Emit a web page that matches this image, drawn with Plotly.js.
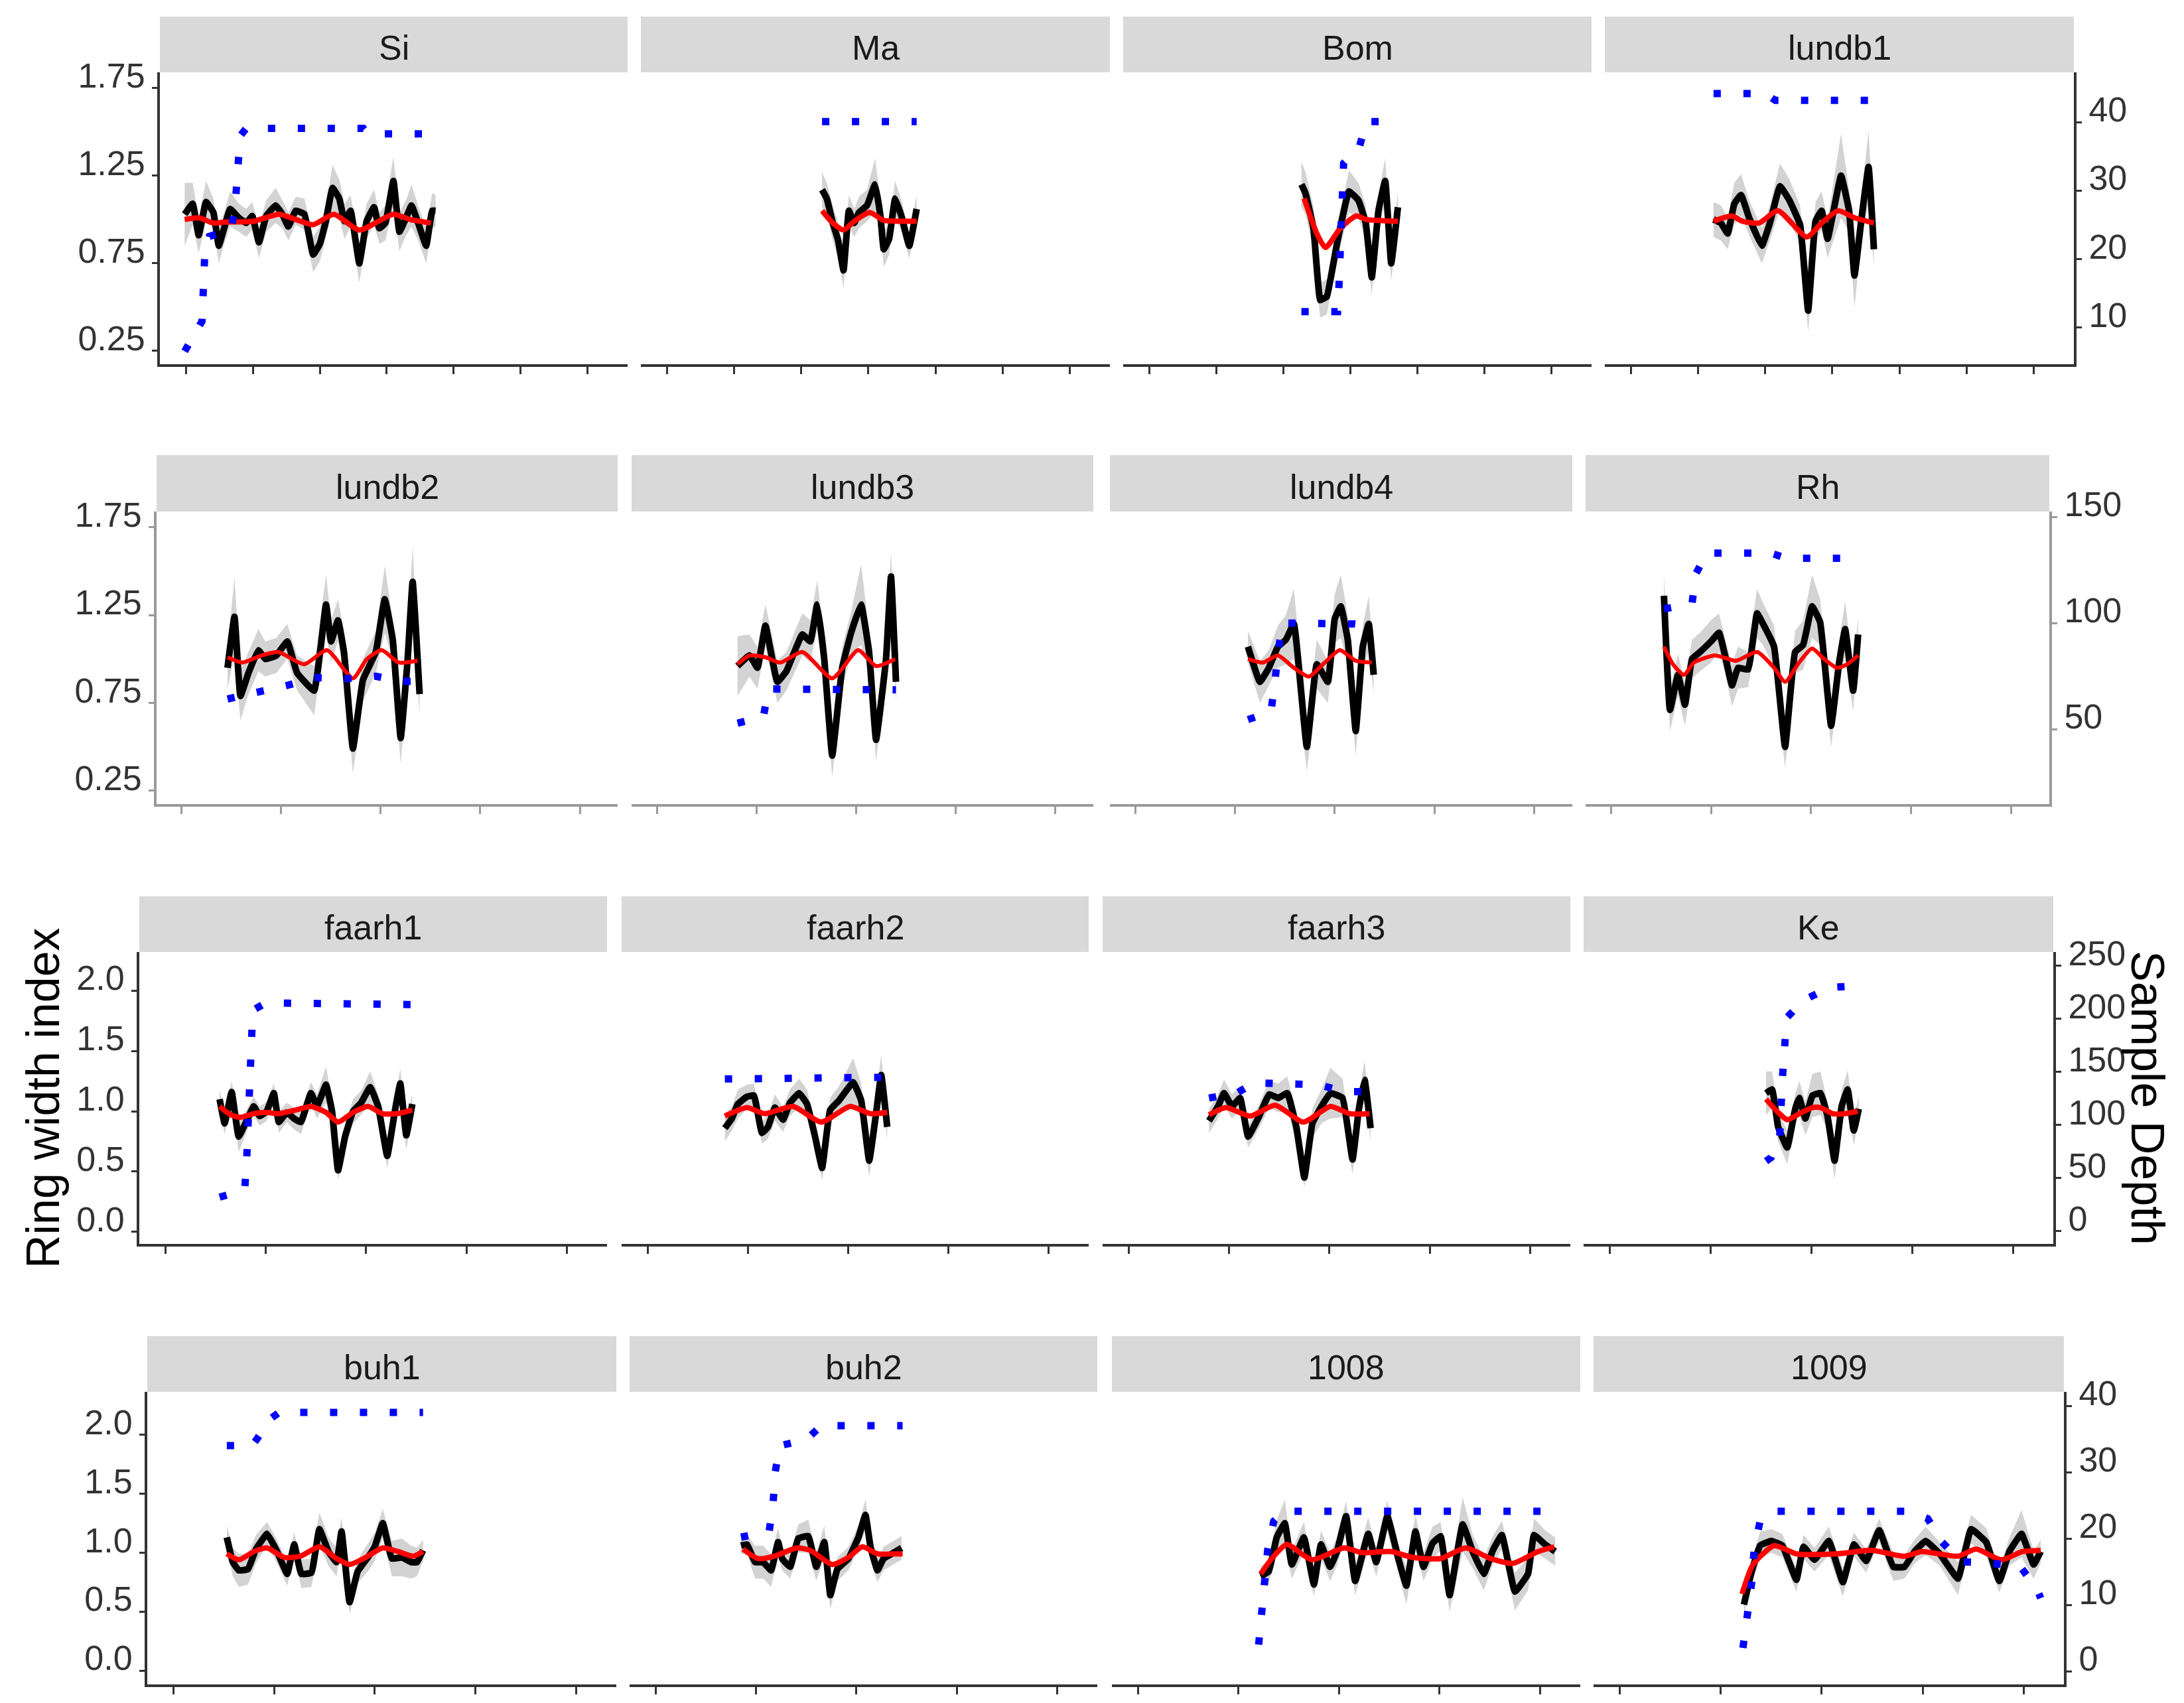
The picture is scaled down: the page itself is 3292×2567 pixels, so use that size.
<!DOCTYPE html>
<html><head><meta charset="utf-8">
<script src="https://cdn.plot.ly/plotly-3.0.1.min.js"></script>
<style>html,body{margin:0;padding:0;background:#fff}</style>
</head><body><div id="chart" style="width:3292px;height:2567px"></div>
<script>
// ---------------- DATA ----------------
const panelNames = ['Si','Ma','Bom','lundb1','lundb2','lundb3','lundb4','Rh','faarh1','faarh2','faarh3','Ke','buh1','buh2','1008','1009'];

// Si
const siYears = [1298,1310,1319,1330,1341,1349,1357,1366,1379,1390,1399,1409,1420,1434,1444,1453,1464,1477,1490,1500,1509,1519,1529,1537,1546,1559,1570,1581,1589,1598,1610,1619,1629,1637,1647,1659,1668,1673];
const siRwi = [1.03,1.09,0.91,1.10,1.04,0.85,0.95,1.06,1.01,0.98,1.02,0.87,1.02,1.08,1.03,0.96,1.05,1.03,0.80,0.86,0.99,1.18,1.12,0.99,1.05,0.75,0.99,1.07,0.95,0.98,1.22,0.93,1.01,1.08,0.98,0.85,1.05,1.05];
const siSe = [0.18,0.12,0.10,0.12,0.08,0.10,0.09,0.10,0.08,0.08,0.08,0.09,0.09,0.10,0.08,0.08,0.08,0.09,0.10,0.10,0.09,0.13,0.11,0.10,0.09,0.11,0.10,0.10,0.09,0.10,0.14,0.11,0.10,0.12,0.10,0.10,0.10,0.09];
const siSmoothYears = [1298,1319,1341,1357,1401,1439,1464,1490,1521,1559,1610,1635,1666];
const siSmooth = [1.00,1.01,0.98,0.985,0.99,1.03,1.00,0.97,1.03,0.94,1.03,1.00,0.98];
const siDepthYears = [1298,1324,1328,1335,1368,1374,1381,1390,1565,1572,1673];
const siDepth = [6.5,10.9,20.5,23.3,24.3,28.5,38,39.1,39.1,38.3,38.3];

// Ma
const maYears = [1531,1538,1547,1555,1563,1571,1579,1586,1598,1610,1618,1623,1631,1640,1650,1661,1672];
const maRwi = [1.17,1.12,0.98,0.88,0.71,1.05,0.98,1.04,1.08,1.20,1.02,0.83,0.89,1.12,1.01,0.85,1.06];
const maSe = [0.10,0.09,0.10,0.10,0.10,0.09,0.08,0.09,0.09,0.15,0.10,0.10,0.09,0.10,0.09,0.07,0.08];
const maSmoothYears = [1531,1547,1563,1579,1602,1623,1648,1672];
const maSmooth = [1.05,0.98,0.94,0.99,1.04,0.995,0.99,0.99];
const maDepthYears = [1531,1672];
const maDepth = [40.1,40.1];

// Bom
const bomYears = [1527,1533,1545,1555,1561,1565,1581,1598,1612,1623,1632,1642,1652,1661,1671];
const bomRwi = [1.20,1.15,0.95,0.54,0.55,0.56,0.88,1.16,1.11,0.98,0.67,1.05,1.22,0.75,1.07];
const bomSe = [0.13,0.12,0.12,0.10,0.10,0.10,0.10,0.12,0.10,0.10,0.10,0.09,0.13,0.10,0.09];
const bomSmoothYears = [1531,1550,1563,1585,1609,1624,1671];
const bomSmooth = [1.12,0.92,0.84,0.95,1.02,1.00,0.99];
const bomDepthYears = [1527,1581,1583,1590,1613,1624,1655,1664,1671];
const bomDepth = [12.3,12.3,16,34,36.2,40.1,40.1,39.1,39.1];

// lundb1
const lundb1Years = [1423,1434,1444,1454,1464,1476,1495,1507,1522,1536,1552,1564,1575,1584,1593,1613,1625,1633,1644,1654,1662];
const lundb1Rwi = [1.00,0.98,0.92,1.09,1.14,1.01,0.85,0.98,1.19,1.11,0.97,0.48,0.99,1.05,0.89,1.25,1.05,0.68,1.02,1.30,0.83];
const lundb1Se = [0.10,0.10,0.09,0.12,0.12,0.10,0.10,0.10,0.13,0.12,0.11,0.12,0.11,0.11,0.11,0.24,0.12,0.18,0.12,0.21,0.10];
const lundb1SmoothYears = [1423,1450,1466,1491,1519,1562,1584,1609,1633,1662];
const lundb1Smooth = [0.99,1.02,0.99,0.98,1.05,0.90,0.98,1.05,1.01,0.98];
const lundb1DepthYears = [1423,1500,1515,1662];
const lundb1Depth = [44.2,44.2,43.2,43.2];

// lundb2
const lundb2Years = [1646,1653,1659,1667,1677,1684,1695,1706,1716,1733,1745,1750,1757,1763,1772,1782,1795,1804,1812,1820,1827,1832,1839];
const lundb2Rwi = [0.95,1.24,0.79,0.92,1.05,1.00,1.02,1.10,0.92,0.82,1.31,1.10,1.22,1.04,0.49,0.88,1.04,1.34,1.11,0.55,1.00,1.44,0.80];
const lundb2Se = [0.12,0.22,0.14,0.12,0.12,0.10,0.10,0.10,0.10,0.14,0.17,0.12,0.12,0.12,0.14,0.12,0.12,0.19,0.12,0.15,0.12,0.20,0.12];
const lundb2SmoothYears = [1646,1661,1680,1697,1723,1746,1772,1786,1801,1818,1837];
const lundb2Smooth = [1.01,0.98,1.02,1.04,0.97,1.05,0.89,1.00,1.05,0.98,0.99];
const lundb2DepthYears = [1646,1676,1707,1733,1764,1795,1820,1839];
const lundb2Depth = [64.2,67.1,70.7,74.3,73.7,74.9,72.5,72.5];

// lundb3
const lundb3Years = [1681,1693,1701,1709,1721,1730,1746,1754,1761,1768,1776,1786,1795,1805,1813,1820,1830,1835,1840];
const lundb3Rwi = [0.96,1.02,0.95,1.19,0.87,0.93,1.14,1.10,1.31,1.00,0.45,0.95,1.15,1.31,1.04,0.54,1.00,1.47,0.87];
const lundb3Se = [0.17,0.12,0.12,0.12,0.12,0.11,0.12,0.12,0.14,0.12,0.12,0.12,0.12,0.23,0.12,0.12,0.12,0.14,0.12];
const lundb3SmoothYears = [1681,1693,1709,1724,1746,1776,1802,1820,1839];
const lundb3Smooth = [0.97,1.02,1.01,0.98,1.04,0.89,1.05,0.96,1.00];
const lundb3DepthYears = [1681,1707,1712,1840];
const lundb3Depth = [52.8,55.8,68.9,68.5];

// lundb4
const lundb4Years = [1713,1725,1734,1743,1751,1759,1772,1782,1793,1800,1806,1813,1821,1828,1834,1839];
const lundb4Rwi = [1.07,0.87,0.95,1.07,1.11,1.20,0.50,0.97,0.87,1.23,1.30,1.11,0.59,1.07,1.20,0.91];
const lundb4Se = [0.09,0.12,0.10,0.12,0.14,0.20,0.14,0.14,0.12,0.14,0.18,0.14,0.14,0.12,0.16,0.10];
const lundb4SmoothYears = [1713,1728,1743,1759,1774,1790,1805,1821,1837];
const lundb4Smooth = [1.00,0.98,1.02,0.95,0.90,0.98,1.05,0.99,0.98];
const lundb4DepthYears = [1713,1736,1740,1743,1748,1820,1839];
const lundb4Depth = [54.5,58.1,71.9,86.2,100,99.5,98.5];

// Rh
const rhYears = [1653,1659,1667,1674,1681,1689,1700,1708,1714,1721,1727,1737,1746,1752,1763,1774,1784,1792,1801,1809,1820,1828,1834,1842,1847];
const rhRwi = [1.36,0.71,0.91,0.74,1.00,1.04,1.10,1.15,1.02,0.85,0.95,0.94,1.26,1.20,1.07,0.50,1.04,1.08,1.30,1.21,0.62,0.98,1.17,0.82,1.14];
const rhSe = [0.12,0.12,0.12,0.12,0.11,0.11,0.12,0.11,0.10,0.12,0.12,0.10,0.14,0.12,0.12,0.12,0.12,0.14,0.18,0.13,0.12,0.12,0.16,0.12,0.10];
const rhSmoothYears = [1653,1662,1673,1683,1704,1725,1746,1763,1774,1788,1801,1813,1826,1836,1847];
const rhSmooth = [1.07,0.97,0.91,0.98,1.02,0.99,1.04,0.95,0.87,0.98,1.06,1.00,0.95,0.97,1.02];
const rhDepthYears = [1653,1681,1685,1696,1760,1775,1847];
const rhDepth = [106.6,109,123.3,132.9,132.9,130.5,130.5];

// faarh1
const faarh1Years = [1654,1659,1666,1673,1682,1688,1694,1701,1708,1713,1721,1728,1735,1745,1751,1760,1766,1772,1779,1787,1795,1804,1812,1821,1829,1834,1840,1846];
const faarh1Rwi = [1.10,0.90,1.16,0.79,0.94,1.04,0.96,1.00,1.15,0.91,0.99,0.94,0.91,1.15,1.04,1.22,1.00,0.51,0.79,1.00,1.07,1.20,1.04,0.63,1.02,1.23,0.80,1.06];
const faarh1Se = [0.08,0.09,0.09,0.13,0.09,0.08,0.08,0.08,0.08,0.09,0.08,0.09,0.10,0.09,0.10,0.15,0.10,0.08,0.10,0.10,0.10,0.13,0.10,0.10,0.10,0.12,0.12,0.08];
const faarh1SmoothYears = [1654,1665,1675,1688,1701,1713,1730,1745,1760,1772,1787,1802,1816,1831,1846];
const faarh1Smooth = [1.04,0.97,0.95,0.98,0.99,0.98,1.01,1.04,0.99,0.91,0.99,1.04,0.98,0.98,1.01];
const faarh1DepthYears = [1654,1679,1681,1683,1685,1687,1700,1800,1820,1846];
const faarh1Depth = [32,39,68,124,180,208,215,215,213.5,213.5];

// faarh2
const faarh2Years = [1677,1684,1690,1699,1706,1714,1720,1727,1735,1742,1751,1759,1767,1774,1782,1791,1805,1813,1821,1828,1833,1839];
const faarh2Rwi = [0.86,0.94,1.06,1.12,1.13,0.82,0.87,1.03,0.93,1.07,1.15,1.06,0.79,0.53,1.01,1.09,1.24,1.09,0.59,0.99,1.30,0.87];
const faarh2Se = [0.11,0.10,0.12,0.10,0.10,0.09,0.10,0.11,0.10,0.11,0.12,0.12,0.10,0.10,0.10,0.12,0.20,0.14,0.13,0.12,0.17,0.10];
const faarh2SmoothYears = [1677,1699,1717,1745,1773,1802,1822,1839];
const faarh2Smooth = [0.96,1.03,0.98,1.04,0.91,1.04,0.98,0.99];
const faarh2DepthYears = [1677,1780,1795,1839];
const faarh2Depth = [143.4,143.4,145,145];

// faarh3
const faarh3Years = [1680,1689,1695,1703,1711,1719,1730,1740,1749,1758,1767,1775,1783,1792,1801,1813,1823,1829,1835,1841];
const faarh3Rwi = [0.92,1.04,1.15,1.04,1.11,0.79,0.96,1.14,1.11,1.15,0.87,0.45,0.90,1.04,1.15,1.11,0.60,1.00,1.26,0.86];
const faarh3Se = [0.10,0.10,0.11,0.10,0.10,0.09,0.10,0.11,0.12,0.14,0.13,0.08,0.12,0.14,0.21,0.16,0.12,0.12,0.16,0.10];
const faarh3SmoothYears = [1680,1697,1721,1746,1774,1801,1820,1840];
const faarh3Smooth = [0.97,1.03,0.96,1.05,0.91,1.04,0.98,0.98];
const faarh3DepthYears = [1680,1708,1725,1790,1815,1841];
const faarh3Depth = [125.4,130.2,139.8,137.9,131.4,131.4];

// Ke
const keYears = [1755,1761,1767,1776,1784,1788,1794,1801,1809,1816,1823,1830,1836,1842,1847];
const keRwi = [1.15,1.18,0.87,0.70,1.02,1.11,0.94,1.13,1.15,0.96,0.59,1.04,1.18,0.84,1.02];
const keSe = [0.18,0.15,0.12,0.14,0.12,0.14,0.14,0.18,0.18,0.12,0.15,0.14,0.16,0.12,0.10];
const keSmoothYears = [1755,1767,1776,1788,1801,1809,1821,1834,1846];
const keSmooth = [1.10,0.99,0.93,0.98,1.03,1.03,0.98,0.98,1.00];
const keDepthYears = [1755,1760,1768.5,1769.5,1771.3,1773.4,1775.5,1792,1818,1846];
const keDepth = [66,69.3,88,117,145,173,201,217.5,229.5,231.2];

// buh1
const buh1Years = [1653,1659,1665,1674,1682,1693,1703,1713,1720,1727,1737,1745,1754,1762,1767,1775,1783,1794,1800,1808,1817,1827,1836,1842,1848];
const buh1Rwi = [1.13,0.92,0.85,0.86,1.03,1.16,1.01,0.82,1.07,0.82,0.83,1.20,1.01,0.92,1.18,0.58,0.84,0.97,1.05,1.25,0.95,0.96,0.92,0.92,1.02];
const buh1Se = [0.10,0.12,0.14,0.13,0.12,0.10,0.10,0.10,0.10,0.12,0.12,0.14,0.12,0.12,0.12,0.10,0.10,0.12,0.12,0.12,0.15,0.16,0.14,0.12,0.09];
const buh1SmoothYears = [1653,1665,1680,1693,1710,1726,1745,1762,1775,1789,1808,1823,1838,1848];
const buh1Smooth = [0.99,0.94,1.01,1.04,0.96,0.97,1.05,0.95,0.90,0.95,1.04,1.01,0.97,1.01];
const buh1DepthYears = [1653,1678,1683,1696,1705,1848];
const buh1Depth = [34,34,35,38,39,39];

// buh2
const buh2Years = [1685,1691,1699,1707,1715,1722,1726,1734,1742,1752,1760,1768,1774,1781,1792,1802,1809,1814,1821,1827,1835,1845];
const buh2Rwi = [1.06,1.07,0.92,0.92,0.85,1.09,0.95,0.88,1.12,1.14,0.88,1.09,0.64,0.86,0.95,1.13,1.32,1.05,0.85,0.95,0.99,1.04];
const buh2Se = [0.07,0.08,0.14,0.14,0.14,0.12,0.10,0.10,0.12,0.14,0.12,0.14,0.12,0.10,0.10,0.10,0.13,0.12,0.10,0.10,0.10,0.10];
const buh2SmoothYears = [1687,1702,1718,1741,1754,1776,1792,1806,1821,1837,1846];
const buh2Smooth = [1.03,0.95,0.97,1.04,1.02,0.90,0.96,1.05,0.99,0.99,0.99];
const buh2DepthYears = [1685,1713,1717,1719,1724,1750,1765,1846];
const buh2Depth = [20.2,21,25.3,30,34,34.9,37,37];

// 1008
const s1008Years = [1722,1730,1738,1746,1753,1765,1775,1782,1791,1798,1807,1816,1829,1837,1848,1859,1867,1876,1884,1893,1901,1910,1923,1933,1944,1953,1962,1975,1988,1994,2005,2015];
const s1008Rwi = [0.80,0.84,1.13,1.25,0.90,1.13,0.73,1.07,0.88,1.01,1.31,0.76,1.16,0.92,1.31,0.95,0.72,1.18,0.88,1.08,1.14,0.64,1.24,1.01,0.82,1.02,1.15,0.67,0.82,1.15,1.07,1.01];
const s1008Se = [0.08,0.10,0.15,0.20,0.12,0.13,0.10,0.12,0.12,0.12,0.13,0.12,0.14,0.12,0.13,0.12,0.16,0.14,0.12,0.14,0.12,0.14,0.23,0.14,0.14,0.12,0.12,0.16,0.14,0.14,0.12,0.12];
const s1008SmoothYears = [1722,1734,1748,1773,1805,1823,1852,1873,1901,1926,1951,1973,1998,2014];
const s1008Smooth = [0.82,0.96,1.07,0.94,1.04,1.00,1.01,0.96,0.95,1.04,0.95,0.91,1.01,1.05];
const s1008DepthYears = [1720,1723.5,1725,1729,1735,1745,2015];
const s1008Depth = [4,10,13.7,18.3,22.6,24.1,24.1];

// 1009
const s1009Years = [1723,1730,1739,1750,1761,1775,1782,1793,1807,1821,1832,1844,1857,1871,1882,1892,1903,1917,1935,1948,1963,1976,1986,1998,2010,2017];
const s1009Rwi = [0.56,0.82,1.06,1.10,1.06,0.77,1.05,0.94,1.10,0.75,1.07,0.93,1.19,0.88,0.88,1.01,1.10,0.99,0.78,1.20,1.09,0.76,1.01,1.16,0.90,1.01];
const s1009Se = [0.08,0.10,0.12,0.10,0.10,0.10,0.10,0.10,0.12,0.12,0.10,0.10,0.10,0.12,0.10,0.10,0.12,0.10,0.14,0.12,0.12,0.10,0.12,0.20,0.12,0.10];
const s1009SmoothYears = [1721,1732,1753,1775,1814,1850,1882,1899,1935,1953,1978,1999,2017];
const s1009Smooth = [0.65,0.90,1.06,0.99,0.99,1.02,0.97,1.01,0.97,1.03,0.94,1.01,1.02];
const s1009DepthYears = [1722,1727,1731,1733,1739,1750,1885,1905,1919,1938,1968,1997,2013,2017];
const s1009Depth = [3.5,9.2,13.7,18.3,22.6,24.1,24.1,23,19.5,16.5,16.3,15.7,12.5,11];

// axis ticks per row
const rwiTicksA = [0.25,0.75,1.25,1.75];
const rwiTickTextA = ['0.25','0.75','1.25','1.75'];
const rwiTicksB = [0,0.5,1,1.5,2];
const rwiTickTextB = ['0.0','0.5','1.0','1.5','2.0'];
const depthTicksRow1 = [10,20,30,40];
const depthTicksRow2 = [50,100,150];
const depthTicksRow3 = [0,50,100,150,200,250];
const depthTicksRow4 = [0,10,20,30,40];
const yearTicksRow1 = [1300,1400,1500,1600,1700,1800,1900];
const yearTicksRows = [1600,1700,1800,1900,2000];

// ---------------- BUILD ----------------
const panels = [
 [siYears,siRwi,siSe,siSmoothYears,siSmooth,siDepthYears,siDepth],
 [maYears,maRwi,maSe,maSmoothYears,maSmooth,maDepthYears,maDepth],
 [bomYears,bomRwi,bomSe,bomSmoothYears,bomSmooth,bomDepthYears,bomDepth],
 [lundb1Years,lundb1Rwi,lundb1Se,lundb1SmoothYears,lundb1Smooth,lundb1DepthYears,lundb1Depth],
 [lundb2Years,lundb2Rwi,lundb2Se,lundb2SmoothYears,lundb2Smooth,lundb2DepthYears,lundb2Depth],
 [lundb3Years,lundb3Rwi,lundb3Se,lundb3SmoothYears,lundb3Smooth,lundb3DepthYears,lundb3Depth],
 [lundb4Years,lundb4Rwi,lundb4Se,lundb4SmoothYears,lundb4Smooth,lundb4DepthYears,lundb4Depth],
 [rhYears,rhRwi,rhSe,rhSmoothYears,rhSmooth,rhDepthYears,rhDepth],
 [faarh1Years,faarh1Rwi,faarh1Se,faarh1SmoothYears,faarh1Smooth,faarh1DepthYears,faarh1Depth],
 [faarh2Years,faarh2Rwi,faarh2Se,faarh2SmoothYears,faarh2Smooth,faarh2DepthYears,faarh2Depth],
 [faarh3Years,faarh3Rwi,faarh3Se,faarh3SmoothYears,faarh3Smooth,faarh3DepthYears,faarh3Depth],
 [keYears,keRwi,keSe,keSmoothYears,keSmooth,keDepthYears,keDepth],
 [buh1Years,buh1Rwi,buh1Se,buh1SmoothYears,buh1Smooth,buh1DepthYears,buh1Depth],
 [buh2Years,buh2Rwi,buh2Se,buh2SmoothYears,buh2Smooth,buh2DepthYears,buh2Depth],
 [s1008Years,s1008Rwi,s1008Se,s1008SmoothYears,s1008Smooth,s1008DepthYears,s1008Depth],
 [s1009Years,s1009Rwi,s1009Se,s1009SmoothYears,s1009Smooth,s1009DepthYears,s1009Depth]
];

const W = 3292, H = 2567;
const rowPlot = [[109,549],[771,1212],[1435,1875],[2098,2539]];
const rowStrip = [[25,109],[686,771],[1351,1435],[2014,2098]];
const colX = [
 [[241,946],[966,1673],[1693,2399],[2419,3126]],
 [[236,931],[952,1648],[1673,2370],[2390,3089]],
 [[210,915],[937,1641],[1662,2367],[2387,3095]],
 [[222,929],[949,1654],[1676,2382],[2402,3111]]
];
const rowCfg = [
 {xr:[1261,1960], xt:yearTicksRow1, yr:[0.174,1.84], yt:rwiTicksA, ytt:rwiTickTextA, dr:[4.6,47.3], dt:depthTicksRow1, lc:'#333333', rw:8},
 {xr:[1574.7,2038], xt:yearTicksRows, yr:[0.174,1.84], yt:rwiTicksA, ytt:rwiTickTextA, dr:[14.7,152.5], dt:depthTicksRow2, lc:'#9a9a9a', rw:6},
 {xr:[1574,2040], xt:yearTicksRows, yr:[-0.10,2.32], yt:rwiTicksB, ytt:rwiTickTextB, dr:[-12,263], dt:depthTicksRow3, lc:'#333333', rw:8},
 {xr:[1574,2040], xt:yearTicksRows, yr:[-0.118,2.365], yt:rwiTicksB, ytt:rwiTickTextB, dr:[-2,42.1], dt:depthTicksRow4, lc:'#333333', rw:8}
];

const FONT = 'Liberation Sans, Arial, sans-serif';
const traces = [];
const layout = {
  width: W, height: H,
  margin: {l:0, r:0, t:0, b:0, pad:0},
  paper_bgcolor: '#ffffff', plot_bgcolor: 'rgba(0,0,0,0)',
  showlegend: false,
  font: {family: FONT, size: 52, color: '#333333'},
  shapes: [], annotations: []
};

panels.forEach((p, i) => {
  const [yrs, rwi, se, sy, sm, dy, dp] = p;
  const r = Math.floor(i / 4), c = i % 4;
  const cfg = rowCfg[r];
  const n = i + 1, nd = 16 + i + 1;
  const xa = 'x' + n, ya = 'y' + n, yd = 'y' + nd;
  const [xl, xrgt] = colX[r][c];
  const [pt, pb] = rowPlot[r];
  const [st, sb] = rowStrip[r];

  layout['xaxis' + n] = {
    domain: [xl / W, xrgt / W], range: cfg.xr, anchor: ya,
    showgrid: false, zeroline: false, showline: true, linecolor: cfg.lc, linewidth: 4,
    ticks: 'outside', tickvals: cfg.xt, ticklen: 11, tickwidth: 3, tickcolor: cfg.lc,
    showticklabels: false, fixedrange: true
  };
  layout['yaxis' + n] = {
    domain: [1 - pb / H, 1 - pt / H], range: cfg.yr, anchor: xa,
    showgrid: false, zeroline: false,
    showline: c === 0, linecolor: cfg.lc, linewidth: 4,
    ticks: c === 0 ? 'outside' : '', tickvals: cfg.yt, ticktext: cfg.ytt,
    ticklen: 8, tickwidth: 3, tickcolor: cfg.lc, ticklabelshift: -19,
    showticklabels: c === 0, tickfont: {family: FONT, size: 52, color: '#333333'},
    fixedrange: true
  };
  layout['yaxis' + nd] = {
    overlaying: ya, side: 'right', anchor: xa, range: cfg.dr,
    showgrid: false, zeroline: false,
    showline: c === 3, linecolor: cfg.lc, linewidth: 4,
    ticks: c === 3 ? 'outside' : '', tickvals: cfg.dt,
    ticklen: 8, tickwidth: 3, tickcolor: cfg.lc, ticklabelshift: -19,
    showticklabels: c === 3, tickfont: {family: FONT, size: 52, color: '#333333'},
    fixedrange: true
  };

  // strip
  layout.shapes.push({type: 'rect', xref: xa + ' domain', yref: 'paper', x0: 0, x1: 1,
    y0: 1 - sb / H, y1: 1 - st / H, fillcolor: '#d9d9d9', line: {width: 0}, layer: 'below'});
  layout.annotations.push({xref: xa + ' domain', yref: 'paper', x: 0.5, y: 1 - (st + sb) / 2 / H,
    yshift: -5, text: panelNames[i], showarrow: false, xanchor: 'center', yanchor: 'middle',
    font: {family: FONT, size: 52, color: '#1a1a1a'}});

  // ribbon
  const up = rwi.map((v, k) => v + se[k]);
  const lo = rwi.map((v, k) => v - se[k]);
  traces.push({type: 'scatter', mode: 'lines', xaxis: xa, yaxis: ya,
    x: yrs.concat(yrs.slice().reverse()), y: up.concat(lo.slice().reverse()),
    fill: 'toself', fillcolor: '#d3d3d3', line: {width: 0, color: '#d3d3d3'}, hoverinfo: 'skip'});
  // black index line
  traces.push({type: 'scatter', mode: 'lines', xaxis: xa, yaxis: ya, x: yrs, y: rwi,
    line: {color: '#000000', width: 10, shape: 'spline', smoothing: 0.3}, hoverinfo: 'skip'});
  // red smooth
  traces.push({type: 'scatter', mode: 'lines', xaxis: xa, yaxis: ya, x: sy, y: sm,
    line: {color: '#ff0000', width: cfg.rw, shape: 'spline', smoothing: 0.6}, hoverinfo: 'skip'});
  // blue sample depth
  traces.push({type: 'scatter', mode: 'lines', xaxis: xa, yaxis: yd, x: dy, y: dp,
    line: {color: '#0000ff', width: 11, dash: '11px,34px'}, hoverinfo: 'skip'});
});

// axis titles
layout.annotations.push({xref: 'paper', yref: 'paper', x: 65 / W, y: 1 - 1655 / H,
  text: 'Ring width index', textangle: -90, showarrow: false, xanchor: 'center', yanchor: 'middle',
  font: {family: FONT, size: 70, color: '#000000'}});
layout.annotations.push({xref: 'paper', yref: 'paper', x: 3237 / W, y: 1 - 1655 / H,
  text: 'Sample Depth', textangle: 90, showarrow: false, xanchor: 'center', yanchor: 'middle',
  font: {family: FONT, size: 70, color: '#000000'}});

Plotly.newPlot('chart', traces, layout, {displayModeBar: false, staticPlot: true});
</script>
</body></html>
